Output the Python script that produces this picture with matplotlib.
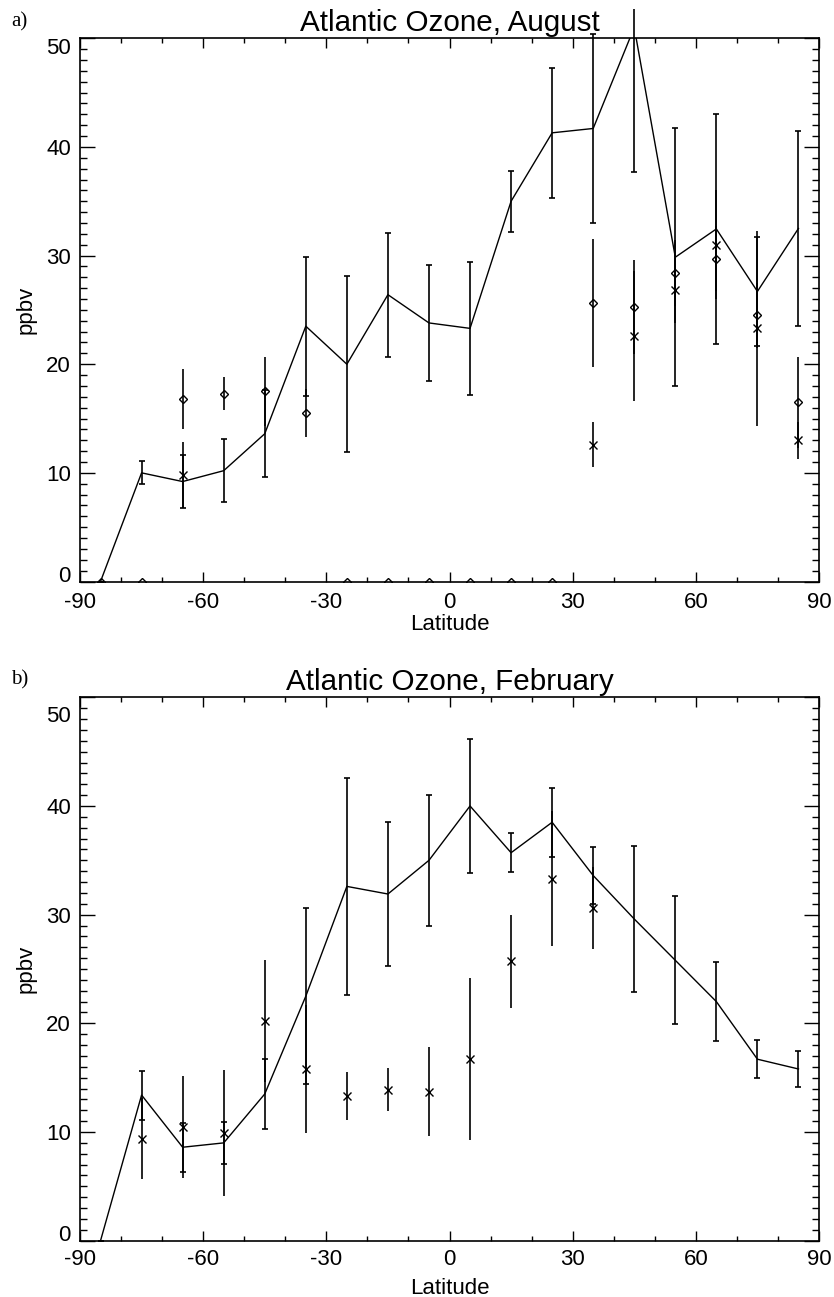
import numpy as np
import matplotlib
matplotlib.use("Agg")
import matplotlib.pyplot as plt
from matplotlib.ticker import MultipleLocator
from matplotlib.transforms import Bbox, TransformedBbox, ScaledTranslation

plt.rcParams['font.family'] = ['Liberation Sans', 'DejaVu Sans']

lat = [-85, -75, -65, -55, -45, -35, -25, -15, -5, 5, 15, 25, 35, 45, 55, 65, 75, 85]
nan = np.nan

# ---- Panel a: August ----
aug_line = [0.0, 10.0, 9.2, 10.2, 13.6, 23.5, 20.0, 26.4, 23.8, 23.3, 35.0, 41.3, 41.7, 51.0, 29.85, 32.45, 26.7, 32.5]
aug_line_err = [0.0, 1.05, 2.4, 2.9, 4.0, 6.4, 8.1, 5.7, 5.3, 6.1, 2.8, 6.0, 8.7, 13.3, 11.9, 10.6, 5.05, 9.0]
aug_diam = [0.0, 0.0, 16.8, 17.3, 17.5, 15.5, 0.0, 0.0, 0.0, 0.0, 0.0, 0.0, 25.6, 25.25, 28.4, 29.7, 24.5, 16.5]
aug_diam_err = [0.0, 0.0, 2.8, 1.5, 3.2, 2.2, 0.0, 0.0, 0.0, 0.0, 0.0, 0.0, 5.9, 4.3, 3.0, 3.0, 3.0, 4.2]
aug_x = [nan, nan, 9.8, nan, nan, nan, nan, nan, nan, nan, nan, nan, 12.6, 22.6, 26.8, 31.0, 23.3, 13.0]
aug_x_err = [nan, nan, 3.0, nan, nan, nan, nan, nan, nan, nan, nan, nan, 2.1, 6.0, 3.0, 5.0, 9.0, 1.7]

# ---- Panel b: February ----
feb_line = [0.0, 13.4, 8.6, 9.0, 13.5, 22.5, 32.6, 31.9, 35.0, 40.0, 35.7, 38.5, 33.6, 29.6, 25.8, 22.0, 16.7, 15.8]
feb_line_err = [0.0, 2.25, 2.25, 1.95, 3.2, 8.1, 10.0, 6.6, 6.0, 6.15, 1.8, 3.2, 2.6, 6.75, 5.9, 3.65, 1.75, 1.65]
feb_x = [nan, 9.4, 10.5, 9.9, 20.2, 15.8, 13.35, 13.9, 13.7, 16.7, 25.7, 33.3, 30.6, nan, nan, nan, nan, nan]
feb_x_err = [nan, 3.7, 4.7, 5.8, 5.6, 5.9, 2.2, 2.0, 4.1, 7.45, 4.25, 6.2, 3.8, nan, nan, nan, nan, nan]

titles = ["Atlantic Ozone, August", "Atlantic Ozone, February"]
panel_tags = ["a)", "b)"]
xticks = [-90, -60, -30, 0, 30, 60, 90]
yticks = [0, 10, 20, 30, 40, 50]

W, H = 834, 1297
fig = plt.figure(figsize=(W / 100, H / 100), dpi=100)

def px_axes(left, top, right, bottom):
    return fig.add_axes([left / W, 1 - bottom / H, (right - left) / W, (bottom - top) / H])

ax_a = px_axes(80, 38.3, 819, 581.5)
ax_b = px_axes(80, 697.3, 819, 1240.7)

def style(ax, title, tag, tag_y, xpad, xlabelpad, top_shift):
    ax.set_xlim(-90, 90)
    ax.set_ylim(0, 50)
    ax.set_xticks(xticks)
    ax.set_xticklabels([str(t) for t in xticks])
    ax.set_yticks(yticks)
    ax.set_yticklabels([str(t) for t in yticks])
    ax.xaxis.set_minor_locator(MultipleLocator(10))
    ax.yaxis.set_minor_locator(MultipleLocator(1))
    ax.tick_params(axis='both', which='both', direction='in', top=True, right=True,
                   labelsize=16, colors='k', width=1.0)
    ax.tick_params(axis='y', which='major', length=10.8, pad=6.5)
    ax.tick_params(axis='y', which='minor', length=5.0)
    ax.tick_params(axis='x', which='major', length=7.5, pad=xpad)
    ax.tick_params(axis='x', which='minor', length=3.6)
    for s in ax.spines.values():
        s.set_linewidth(1.2)
    ax.set_xlabel("Latitude", fontsize=16, labelpad=xlabelpad)
    ax.set_ylabel("ppbv", fontsize=16, labelpad=7)
    ax.set_title(title, fontsize=21.3, pad=5)
    ylabels = ax.get_yticklabels()
    ylabels[0].set_va('baseline')
    ylabels[-1].set_va('top')
    if top_shift:
        ylabels[-1].set_transform(ylabels[-1].get_transform() +
                                  ScaledTranslation(0, -top_shift / 100, fig.dpi_scale_trans))
    fig.text(11 / W, 1 - tag_y / H, tag,
             family=['Liberation Serif', 'DejaVu Serif'], fontsize=15, va='baseline', ha='left')

def line_with_err(ax, y, yerr):
    ax.plot(lat, y, color='k', lw=1.0)
    cont = ax.errorbar(lat, y, yerr=yerr, fmt='none', ecolor='k', elinewidth=1.2,
                       capsize=2.4, capthick=1.2)
    clip = TransformedBbox(Bbox([[-0.1, -0.1], [1.1, 1.0534]]), ax.transAxes)
    for art in list(cont.lines[1]) + list(cont.lines[2]):
        art.set_clip_box(clip)

def marker_series(ax, y, yerr, marker, ms):
    ax.errorbar(lat, y, yerr=yerr, fmt=marker, ms=ms, mfc='none', mec='k', mew=1.0,
                ecolor='k', elinewidth=1.2, capsize=0)

line_with_err(ax_a, aug_line, aug_line_err)
marker_series(ax_a, aug_diam, aug_diam_err, 'D', 4.3)
marker_series(ax_a, aug_x, aug_x_err, 'x', 5.5)
style(ax_a, titles[0], panel_tags[0], 26, 7.2, 1.4, 0)

line_with_err(ax_b, feb_line, feb_line_err)
marker_series(ax_b, feb_x, feb_x_err, 'x', 5.5)
style(ax_b, titles[1], panel_tags[1], 684, 6.2, 5.8, 9)

fig.savefig("out.png", dpi=100, facecolor='white')
